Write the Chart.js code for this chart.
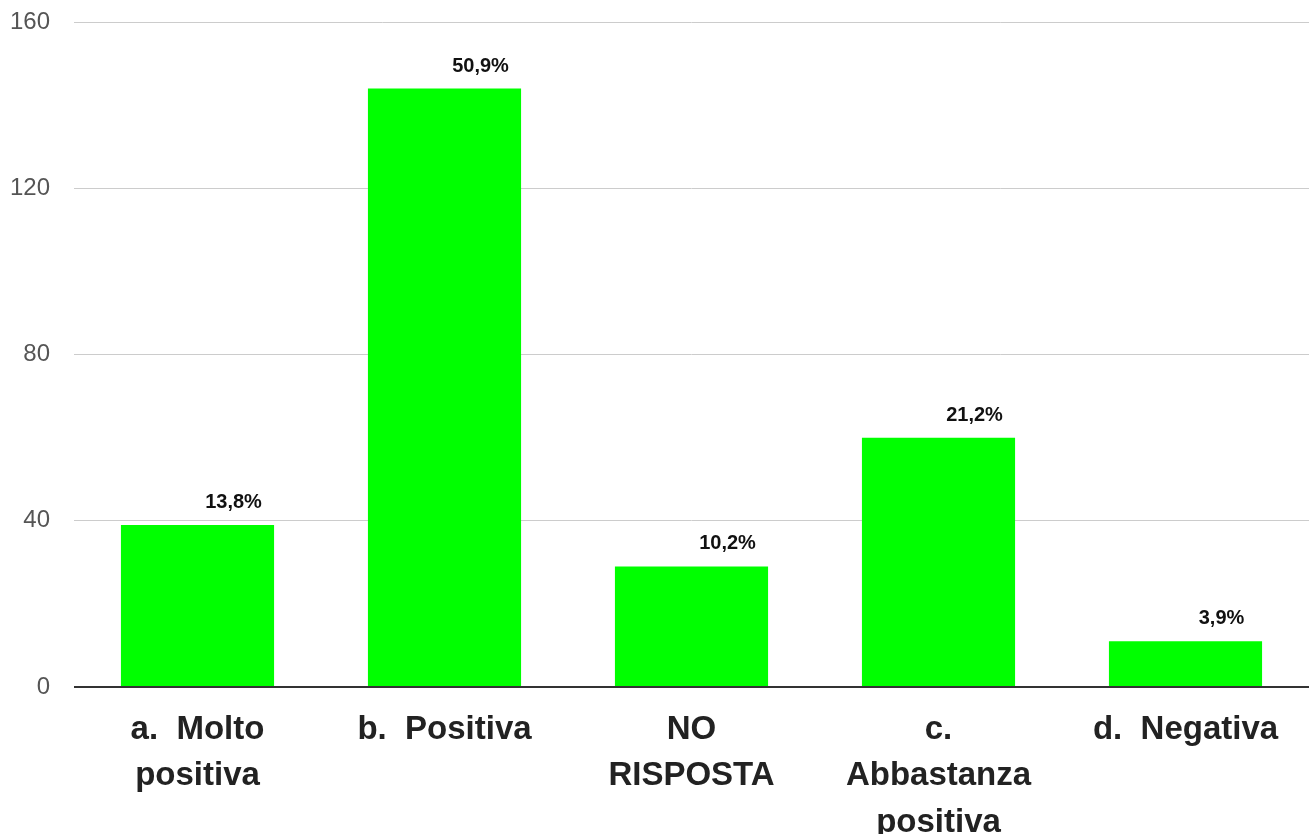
<!DOCTYPE html>
<html lang="it">
<head>
  <meta charset="UTF-8" />
  <title>Valutazione</title>
  <script src="https://cdn.jsdelivr.net/npm/chart.js"></script>
  <style>
    html, body { margin: 0; padding: 0; background: #ffffff; }
    #wrap { width: 1309px; height: 834px; }
  </style>
</head>
<body>
  <div id="wrap"><canvas id="barChart"></canvas></div>

  <script>
    const categories = [
      ['a.  Molto', 'positiva'],
      ['b.  Positiva'],
      ['NO', 'RISPOSTA'],
      ['c.', 'Abbastanza', 'positiva'],
      ['d.  Negativa']
    ];
    const counts = [39, 144, 29, 60, 11];
    const percentLabels = ['13,8%', '50,9%', '10,2%', '21,2%', '3,9%'];
    const yTicks = [0, 40, 80, 120, 160];

    // draws the percentage text above each bar, a bit right of centre
    const valueLabels = {
      id: 'valueLabels',
      afterDatasetsDraw(chart) {
        const ctx = chart.ctx;
        const meta = chart.getDatasetMeta(0);
        ctx.save();
        ctx.font = 'bold 20px "Liberation Sans", Arial, sans-serif';
        ctx.fillStyle = '#111';
        ctx.textAlign = 'center';
        ctx.textBaseline = 'alphabetic';
        meta.data.forEach((bar, i) => {
          ctx.fillText(percentLabels[i], bar.x + 36, bar.y - 17);
        });
        ctx.restore();
      }
    };

    new Chart(document.getElementById('barChart'), {
      type: 'bar',
      data: {
        labels: categories,
        datasets: [{
          data: counts,
          backgroundColor: '#00ff00',
          borderWidth: 0,
          barPercentage: 0.62,
          categoryPercentage: 1
        }]
      },
      options: {
        responsive: true,
        maintainAspectRatio: false,
        animation: false,
        layout: { padding: { top: 22, right: 0, left: 0, bottom: 0 } },
        plugins: {
          legend: { display: false },
          tooltip: { enabled: false }
        },
        scales: {
          x: {
            grid: { display: false },
            border: { display: false },
            ticks: {
              color: '#222',
              padding: 12,
              maxRotation: 0,
              autoSkip: false,
              font: { family: '"Liberation Sans", Arial, sans-serif', size: 33, weight: 'bold', lineHeight: 1.4 }
            },
            afterFit(scale) { scale.height = 147; }
          },
          y: {
            min: 0,
            max: 160,
            afterBuildTicks(scale) {
              scale.ticks = yTicks.map(v => ({ value: v }));
            },
            border: { display: false },
            grid: {
              drawTicks: false,
              lineWidth: ctx => (ctx.tick && ctx.tick.value === 0 ? 2 : 1),
              color: ctx => (ctx.tick && ctx.tick.value === 0 ? '#333' : '#cccccc')
            },
            ticks: {
              color: '#555',
              padding: 24,
              font: { family: '"Liberation Sans", Arial, sans-serif', size: 24 }
            },
            afterFit(scale) {
              scale.width = 74;
              scale.paddingTop = 0;
              scale.paddingBottom = 0;
            }
          }
        }
      },
      plugins: [valueLabels]
    });
  </script>
</body>
</html>
